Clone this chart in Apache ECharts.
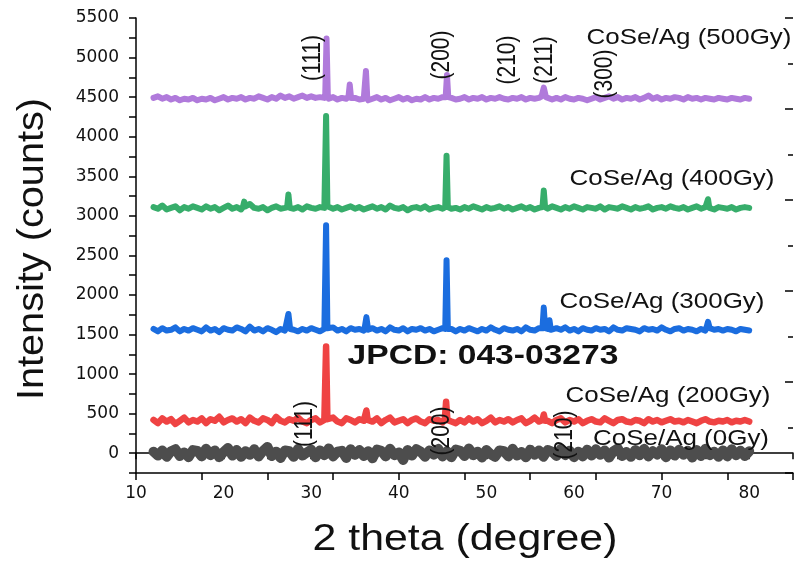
<!DOCTYPE html>
<html>
<head>
<meta charset="utf-8">
<title>XRD CoSe/Ag</title>
<script src="https://cdn.jsdelivr.net/npm/echarts@6/dist/echarts.min.js"></script>
<style>
  html, body { margin: 0; padding: 0; background: #fff; }
  #chart { width: 796px; height: 563px; }
</style>
</head>
<body>
<div id="chart"></div>
<script>
// 2 theta grid (degree)
const theta = [
  12, 12.5, 13, 13.5, 14, 14.5, 15, 15.5, 16, 16.5,
  17, 17.5, 18, 18.5, 19, 19.5, 20, 20.5, 21, 21.5,
  22, 22.5, 23, 23.5, 24, 24.5, 25, 25.5, 26, 26.5,
  27, 27.5, 28, 28.5, 29, 29.5, 30, 30.5, 31, 31.5,
  32, 32.5, 33, 33.5, 34, 34.5, 35, 35.5, 36, 36.5,
  37, 37.5, 38, 38.5, 39, 39.5, 40, 40.5, 41, 41.5,
  42, 42.5, 43, 43.5, 44, 44.5, 45, 45.5, 46, 46.5,
  47, 47.5, 48, 48.5, 49, 49.5, 50, 50.5, 51, 51.5,
  52, 52.5, 53, 53.5, 54, 54.5, 55, 55.5, 56, 56.5,
  57, 57.5, 58, 58.5, 59, 59.5, 60, 60.5, 61, 61.5,
  62, 62.5, 63, 63.5, 64, 64.5, 65, 65.5, 66, 66.5,
  67, 67.5, 68, 68.5, 69, 69.5, 70, 70.5, 71, 71.5,
  72, 72.5, 73, 73.5, 74, 74.5, 75, 75.5, 76, 76.5,
  77, 77.5, 78, 78.5, 79, 79.5, 80,
]

// background counts on the grid above
const counts0Gy = [
  20, -30, 35, -45, 25, 50, -35, 10, -50, 40,
  30, -40, 55, -25, 35, -50, 15, 65, -30, 40,
  -45, 25, -20, 50, -40, 30, 80, -35, 20, -60,
  35, 25, -45, 55, -30, 10, 45, -50, 35, -25,
  60, -40, 20, 30, -60, 50, -20, 40, -35, 25,
  -65, 45, 30, -40, 55, -25, 10, -85, 40, -30,
  50, 20, -45, 35, -20, 55, -40, 25, -50, 45,
  30, -35, 60, -25, 20, -55, 40, -15, -45, 35,
  25, -40, 55, -30, 15, -50, 45, -20, 35, -45,
  40, 20, -35, 55, -25, 30, -50, 20, -40, 45,
  -30, 50, -20, 35, -55, 25, 60, -35, 15, -45,
  40, -25, 55, -40, 25, -15, 50, -50, 35, -30,
  45, -20, 30, -55, 40, -35, 55, -25, 20, -45,
  35, -40, 50, -25, 30, -35, 25,
]
const counts200Gy = [
  420, 380, 440, 400, 430, 370, 410, 450, 390, 420,
  400, 440, 380, 430, 410, 460, 390, 420, 440, 400,
  430, 380, 450, 410, 390, 440, 420, 380, 460, 410,
  390, 430, 410, 450, 400, 380, 420, 440, 390, 420,
  410, 450, 400, 380, 440, 420, 390, 430, 410, 420,
  400, 440, 380, 420, 450, 390, 410, 430, 380, 420,
  440, 400, 380, 430, 410, 420, 390, 430, 400, 380,
  420, 390, 440, 400, 430, 380, 410, 450, 390, 420,
  400, 430, 390, 420, 440, 380, 410, 450, 400, 430,
  410, 380, 420, 440, 390, 420, 400, 430, 380, 410,
  430, 400, 390, 440, 410, 380, 420, 430, 400, 390,
  420, 410, 380, 430, 400, 420, 390, 410, 430, 400,
  410, 390, 420, 400, 380, 410, 430, 400, 390, 410,
  400, 420, 390, 410, 400, 420, 400,
]
const counts300Gy = [
  1570, 1540, 1580, 1550, 1560, 1590, 1540, 1570, 1550, 1580,
  1560, 1540, 1590, 1550, 1570, 1530, 1580, 1560, 1550, 1590,
  1570, 1540, 1600, 1550, 1570, 1540, 1580, 1560, 1530, 1570,
  1550, 1580, 1560, 1540, 1570, 1550, 1580, 1560, 1540, 1570,
  1560, 1590, 1550, 1570, 1540, 1580, 1560, 1570, 1550, 1560,
  1580, 1550, 1570, 1540, 1590, 1560, 1550, 1580, 1540, 1570,
  1560, 1580, 1550, 1570, 1540, 1560, 1580, 1550, 1570, 1540,
  1570, 1550, 1580, 1560, 1540, 1570, 1550, 1590, 1560, 1540,
  1580, 1560, 1550, 1570, 1540, 1590, 1560, 1550, 1580, 1560,
  1570, 1550, 1580, 1560, 1590, 1550, 1570, 1540, 1580, 1560,
  1550, 1580, 1560, 1570, 1540, 1590, 1560, 1550, 1580, 1570,
  1560, 1540, 1580, 1560, 1570, 1550, 1590, 1560, 1540, 1570,
  1580, 1550, 1570, 1560, 1540, 1570, 1550, 1580, 1560, 1570,
  1550, 1570, 1560, 1540, 1570, 1560, 1550,
]
const counts400Gy = [
  3110, 3090, 3130, 3080, 3100, 3120, 3070, 3110, 3090, 3120,
  3100, 3080, 3120, 3090, 3110, 3070, 3100, 3130, 3090, 3110,
  3080, 3120, 3150, 3100, 3090, 3110, 3070, 3100, 3120, 3090,
  3100, 3130, 3090, 3110, 3080, 3120, 3100, 3090, 3110, 3100,
  3120, 3090, 3110, 3080, 3100, 3120, 3090, 3110, 3080, 3100,
  3120, 3090, 3110, 3080, 3130, 3100, 3090, 3110, 3070, 3100,
  3110, 3090, 3120, 3080, 3100, 3110, 3090, 3120, 3090, 3100,
  3080, 3110, 3090, 3120, 3100, 3080, 3110, 3090, 3100, 3120,
  3090, 3110, 3080, 3100, 3120, 3090, 3110, 3080, 3100, 3110,
  3090, 3120, 3100, 3080, 3110, 3090, 3120, 3100, 3080, 3110,
  3100, 3090, 3120, 3080, 3110, 3100, 3090, 3120, 3100, 3080,
  3110, 3090, 3100, 3120, 3080, 3100, 3110, 3090, 3120, 3100,
  3090, 3110, 3080, 3100, 3120, 3090, 3110, 3100, 3080, 3110,
  3100, 3090, 3110, 3080, 3100, 3110, 3100,
]
const counts500Gy = [
  4490, 4510, 4480, 4500, 4470, 4490, 4460, 4480, 4470, 4490,
  4460, 4480, 4470, 4490, 4460, 4480, 4500, 4470, 4490, 4480,
  4500, 4470, 4490, 4480, 4510, 4490, 4470, 4500, 4480, 4520,
  4490, 4510, 4480, 4500, 4520, 4490, 4510, 4490, 4500, 4490,
  4480, 4500, 4470, 4490, 4480, 4500, 4490, 4470, 4480, 4460,
  4480, 4500, 4470, 4490, 4460, 4480, 4500, 4470, 4490, 4460,
  4480, 4470, 4500, 4470, 4490, 4480, 4500, 4480, 4490, 4470,
  4480, 4500, 4470, 4490, 4480, 4500, 4470, 4490, 4480, 4500,
  4480, 4470, 4490, 4480, 4500, 4470, 4490, 4480, 4490, 4500,
  4480, 4470, 4490, 4470, 4500, 4480, 4470, 4490, 4480, 4460,
  4480, 4500, 4470, 4490, 4510, 4480, 4500, 4470, 4490, 4480,
  4500, 4470, 4490, 4520, 4480, 4500, 4470, 4490, 4480, 4500,
  4490, 4470, 4500, 4480, 4490, 4470, 4490, 4480, 4470, 4490,
  4480, 4470, 4490, 4480, 4470, 4490, 4480,
]

// diffraction peaks: [2theta, counts] points of each reflection
const peaks0Gy = []
const peaks200Gy = [
  [[31.55, 430], [31.7, 1350], [31.85, 430]],
  [[36.15, 420], [36.3, 540], [36.45, 420]],
  [[45.25, 430], [45.4, 650], [45.55, 420]],
  [[56.4, 420], [56.55, 490], [56.7, 410]],
]
const peaks300Gy = [
  [[27.2, 1570], [27.4, 1760], [27.6, 1570]],
  [[31.55, 1580], [31.7, 2880], [31.85, 1580]],
  [[36.1, 1580], [36.3, 1720], [36.5, 1570]],
  [[45.3, 1570], [45.45, 2440], [45.6, 1570]],
  [[56.4, 1580], [56.55, 1840], [56.7, 1580]],
  [[57.05, 1570], [57.2, 1680], [57.35, 1560]],
  [[75.1, 1580], [75.3, 1660], [75.5, 1570]],
]
const peaks400Gy = [
  [[22.2, 3110], [22.35, 3180], [22.5, 3100]],
  [[27.25, 3110], [27.4, 3270], [27.55, 3100]],
  [[31.55, 3120], [31.7, 4260], [31.85, 3120]],
  [[45.3, 3110], [45.45, 3760], [45.6, 3110]],
  [[56.4, 3110], [56.55, 3320], [56.7, 3110]],
  [[75.15, 3110], [75.3, 3210], [75.45, 3100]],
]
const peaks500Gy = [
  [[31.6, 4520], [31.75, 5240], [31.9, 4510]],
  [[34.25, 4500], [34.4, 4660], [34.55, 4490]],
  [[36.1, 4500], [36.25, 4830], [36.4, 4490]],
  [[45.35, 4500], [45.5, 4780], [45.65, 4500]],
  [[56.3, 4510], [56.55, 4620], [56.8, 4500]],
]

const sampleNames = ['CoSe/Ag (0Gy)', 'CoSe/Ag (200Gy)', 'CoSe/Ag (300Gy)', 'CoSe/Ag (400Gy)', 'CoSe/Ag (500Gy)']
const sampleColors = ['#4d4d4d', '#ef4343', '#1b6ddf', '#37ad6b', '#b07adb']
const lineWidths = [10, 6.5, 6, 6, 6]
const hklLabels = ['(111)', '(200)', '(210)', '(211)', '(300)']

// merge background and peaks, sorted by 2 theta
function buildPattern(base, peaks) {
  const pts = []
  theta.forEach((t, i) => {
    const covered = peaks.some(p => t > p[0][0] && t < p[p.length - 1][0])
    if (!covered)
      pts.push([t, base[i]])
  })
  peaks.forEach(p => p.forEach(pt => pts.push(pt)))
  return pts.sort((a, b) => a[0] - b[0])
}

const patterns = [
  buildPattern(counts0Gy, peaks0Gy),
  buildPattern(counts200Gy, peaks200Gy),
  buildPattern(counts300Gy, peaks300Gy),
  buildPattern(counts400Gy, peaks400Gy),
  buildPattern(counts500Gy, peaks500Gy),
]

const FONT = '"Liberation Sans", Arial, sans-serif'

// text annotation helper (the source figure is stretched horizontally)
function note(text, x, y, size, opt = {}) {
  return {
    type: 'text',
    x,
    y,
    z: 100,
    rotation: opt.rotation || 0,
    scaleX: opt.scaleX || 1,
    scaleY: opt.scaleY || 1,
    style: {
      text,
      font: `${opt.weight || 'normal'} ${size}px ${FONT}`,
      fill: '#111',
      align: 'center',
      verticalAlign: 'middle',
    },
  }
}

const up = Math.PI / 2
const graphics = [
  note('Intensity (counts)', 33, 249, 32, { rotation: up, scaleX: 1.24, scaleY: 1.15 }),
  note('2 theta (degree)', 465, 540, 36, { scaleX: 1.19 }),
  note(sampleNames[4], 689, 38, 22, { scaleX: 1.18 }),
  note(sampleNames[3], 672, 179, 22, { scaleX: 1.18 }),
  note(sampleNames[2], 662, 302, 22, { scaleX: 1.18 }),
  note(sampleNames[1], 668, 396, 22, { scaleX: 1.18 }),
  note(sampleNames[0], 681, 439, 22, { scaleX: 1.18 }),
  note('JPCD: 043-03273', 483, 356, 28, { weight: 'bold', scaleX: 1.2 }),
  // reflections above the 500Gy pattern
  note(hklLabels[0], 313, 58, 21, { rotation: up, scaleY: 1.2 }),
  note(hklLabels[1], 442, 55, 21, { rotation: up, scaleY: 1.2 }),
  note(hklLabels[2], 508, 60, 21, { rotation: up, scaleY: 1.2 }),
  note(hklLabels[3], 545, 60, 21, { rotation: up, scaleY: 1.2 }),
  note(hklLabels[4], 605, 74, 21, { rotation: up, scaleY: 1.2 }),
  // reflections on the 0Gy pattern
  note(hklLabels[0], 305, 424, 21, { rotation: up, scaleY: 1.2 }),
  note(hklLabels[1], 442, 431, 21, { rotation: up, scaleY: 1.2 }),
  note(hklLabels[2], 565, 435, 21, { rotation: up, scaleY: 1.2 }),
]

const axisLine = { show: true, lineStyle: { color: '#000', width: 1.5 } }
const tickLabel = { color: '#111', fontSize: 17, fontFamily: '"DejaVu Sans", sans-serif' }

const option = {
  animation: false,
  backgroundColor: '#fff',
  grid: { left: 136, top: 18, right: 1, bottom: 90 },
  xAxis: [
    {
      type: 'value',
      position: 'bottom',
      min: 10,
      max: 85,
      interval: 5,
      axisLine,
      axisTick: { show: true, inside: false, length: 6, lineStyle: { color: '#000', width: 1.5 } },
      axisLabel: { ...tickLabel, margin: 12, formatter: v => (v % 10 === 0 && v <= 80 ? String(v) : '') },
      splitLine: { show: false },
    },
    {
      type: 'value',
      position: 'top',
      min: 10,
      max: 85,
      interval: 7.5,
      axisLine,
      axisTick: { show: true, inside: true, length: 7, lineStyle: { color: '#000', width: 1.5 } },
      axisLabel: { show: false },
      splitLine: { show: false },
    },
  ],
  yAxis: [
    {
      type: 'value',
      position: 'left',
      min: -250,
      max: 5500,
      interval: 250,
      axisLine,
      axisTick: { show: true, inside: false, length: 7, lineStyle: { color: '#000', width: 1.5 } },
      axisLabel: { ...tickLabel, margin: 17, formatter: v => (v >= 0 && v % 500 === 0 ? String(v) : '') },
      splitLine: { show: false },
    },
    {
      type: 'value',
      position: 'right',
      min: 0,
      max: 10,
      interval: 2,
      axisLine: { show: false },
      axisTick: { show: true, inside: true, length: 8, lineStyle: { color: '#000', width: 1.5 } },
      minorTick: { show: true, splitNumber: 2, length: 5, lineStyle: { color: '#000', width: 1.5 } },
      axisLabel: { show: false },
      splitLine: { show: false },
    },
  ],
  series: patterns.map((data, i) => ({
    name: sampleNames[i],
    type: 'line',
    xAxisIndex: 0,
    yAxisIndex: 0,
    data,
    showSymbol: false,
    symbol: 'none',
    silent: true,
    lineStyle: { color: sampleColors[i], width: lineWidths[i], join: 'round', cap: 'round' },
    z: 2 + i,
  })),
  graphic: graphics,
}

const chart = echarts.init(document.getElementById('chart'))
chart.setOption(option)
</script>
</body>
</html>
